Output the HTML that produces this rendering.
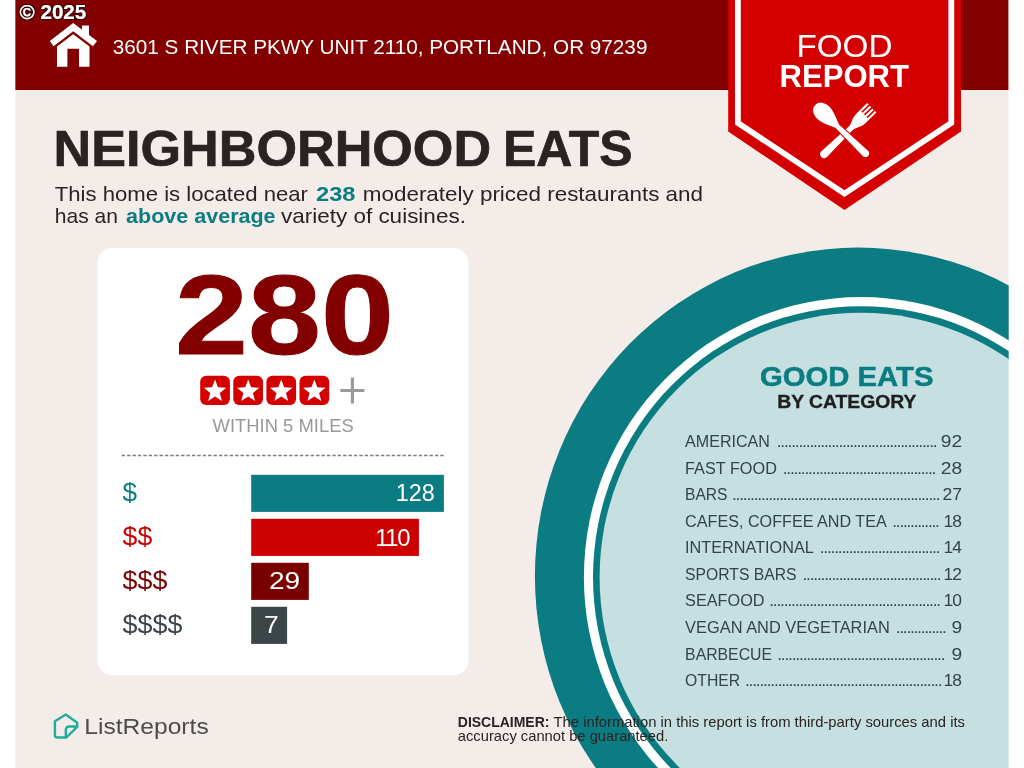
<!DOCTYPE html>
<html lang="en">
<head>
<meta charset="utf-8">
<title>Food Report - Neighborhood Eats</title>
<style>
html,body{margin:0;padding:0;background:#fff;}
body{width:1024px;height:768px;overflow:hidden;font-family:"Liberation Sans",sans-serif;}
svg{display:block;}
text{font-family:"Liberation Sans",sans-serif;}
.b{font-weight:bold;}
</style>
</head>
<body>
<svg width="1024" height="768" viewBox="0 0 1024 768">
<defs>
<filter id="wm" x="-10%" y="-30%" width="120%" height="160%"><feMorphology in="SourceAlpha" operator="dilate" radius="1.3" result="d"/><feGaussianBlur in="d" stdDeviation="0.55" result="b"/><feFlood flood-color="#2a0808" flood-opacity="0.85"/><feComposite in2="b" operator="in" result="sh"/><feMorphology in="SourceGraphic" operator="dilate" radius="0.3" result="fat"/><feMerge><feMergeNode in="sh"/><feMergeNode in="fat"/></feMerge></filter>
</defs>
<rect x="0" y="0" width="1024" height="768" fill="#fff"/>
<g>

<rect x="15.2" y="0" width="993.4" height="768" fill="#f4ece9"/>
<rect x="15.2" y="0" width="993.4" height="90" fill="#830000"/>
<ellipse cx="858.2" cy="576.1" rx="323.3" ry="328.5" fill="#0a7c82"/>
<ellipse cx="860.9" cy="577.2" rx="277.0" ry="280.1" fill="#fff"/>
<ellipse cx="860.9" cy="577.2" rx="267.9" ry="271.0" fill="#0a7c82"/>
<ellipse cx="860.9" cy="577.2" rx="261.3" ry="264.4" fill="#c6e0e1"/>
</g>
<polygon points="728.2,0 961,0 961,131.5 844.5,209.9 728.2,131.5" fill="#d40000"/>
<polyline points="737.9,0 737.9,122.9 844.5,193.6 951.3,122.9 951.3,0" fill="none" stroke="#fff" stroke-width="5.8" stroke-linejoin="miter"/>
<text x="796.4" y="57.4" font-size="30.5" fill="#fff" textLength="96" lengthAdjust="spacingAndGlyphs">FOOD</text>
<text class="b" x="779.6" y="87.2" font-size="31" fill="#fff" textLength="129.4" lengthAdjust="spacingAndGlyphs">REPORT</text>
<g fill="#fff">
<g transform="translate(845.1,133.75) rotate(45.8)">
<path d="M-6.6,-37.2 L-4.5,-37.2 L-4.5,-27 L-2.9,-27 L-2.9,-37.2 L-0.8,-37.2 L-0.8,-27 L0.8,-27 L0.8,-37.2 L2.9,-37.2 L2.9,-27 L4.5,-27 L4.5,-37.2 L6.6,-37.2 L6.6,-23 C6.6,-15.5 3.4,-13.5 2.7,-8.5 L4,29.2 A4,4 0 0 1 -4,29.2 L-2.7,-8.5 C-3.4,-13.5 -6.6,-15.5 -6.6,-23 Z"/>
</g>
<g transform="translate(845.1,133.75) rotate(-46)">
<path stroke="#d40000" stroke-width="1" d="M0,-42 C5.6,-42 9.2,-36.6 9.2,-30.6 C9.2,-23 4.8,-16.5 2.9,-10.5 L4.2,28.2 A4.2,4.2 0 0 1 -4.2,28.2 L-2.9,-10.5 C-4.8,-16.5 -9.2,-23 -9.2,-30.6 C-9.2,-36.6 -5.6,-42 0,-42 Z"/>
</g>
</g>
<g fill="#fff">
<polygon points="73.2,23 97,41 93,46.2 73.2,31.2 53.6,46.2 49.8,41"/>
<polygon points="82,25.4 89,25.4 89,36 82,30.6"/>
<path d="M57,46.5 L73.2,34.2 L89.5,46.5 L89.5,66.8 L79,66.8 L79,48.8 L67.4,48.8 L67.4,66.8 L57,66.8 Z"/>
</g>
<text x="112.8" y="53.7" font-size="20.6" fill="#fff" textLength="534.6" lengthAdjust="spacingAndGlyphs">3601 S RIVER PKWY UNIT 2110, PORTLAND, OR 97239</text>
<text class="b" x="19.5" y="19.0" font-size="20" fill="#fff" filter="url(#wm)" textLength="66.8" lengthAdjust="spacingAndGlyphs">© 2025</text>
<text class="b" y="165.6" font-size="50" fill="#2a2322" stroke="#2a2322" stroke-width="0.7"><tspan x="53.6" textLength="437.5" lengthAdjust="spacingAndGlyphs">NEIGHBORHOOD</tspan><tspan x="503" textLength="129.5" lengthAdjust="spacingAndGlyphs">EATS</tspan></text>
<text x="54.8" y="200.7" font-size="20.8" fill="#2a2322"><tspan textLength="253.2" lengthAdjust="spacingAndGlyphs">This home is located near</tspan><tspan class="b" x="316" fill="#0a7c82" textLength="39.4" lengthAdjust="spacingAndGlyphs">238</tspan><tspan x="362.8" textLength="340.2" lengthAdjust="spacingAndGlyphs">moderately priced restaurants and</tspan></text>
<text x="54.8" y="223.2" font-size="20.8" fill="#2a2322"><tspan textLength="63.2" lengthAdjust="spacingAndGlyphs">has an</tspan><tspan class="b" x="126.1" fill="#0a7c82" textLength="149.5" lengthAdjust="spacingAndGlyphs">above average</tspan><tspan x="280.9" textLength="185" lengthAdjust="spacingAndGlyphs">variety of cuisines.</tspan></text>
<rect x="97.5" y="248" width="371" height="427.4" rx="15" ry="15" fill="#fff"/>
<text class="b" x="174.9" y="354.3" font-size="113" fill="#830000" stroke="#830000" stroke-width="1" textLength="219" lengthAdjust="spacingAndGlyphs">280</text>
<rect x="200.2" y="375.8" width="29.7" height="29.1" rx="6" ry="6" fill="#d40000"/>
<polygon points="215.05,379.60 217.99,387.35 226.27,387.75 219.81,392.95 221.99,400.95 215.05,396.40 208.11,400.95 210.29,392.95 203.83,387.75 212.11,387.35" fill="#fff"/>
<rect x="233.3" y="375.8" width="29.7" height="29.1" rx="6" ry="6" fill="#d40000"/>
<polygon points="248.15,379.60 251.09,387.35 259.37,387.75 252.91,392.95 255.09,400.95 248.15,396.40 241.21,400.95 243.39,392.95 236.93,387.75 245.21,387.35" fill="#fff"/>
<rect x="266.4" y="375.8" width="29.7" height="29.1" rx="6" ry="6" fill="#d40000"/>
<polygon points="281.25,379.60 284.19,387.35 292.47,387.75 286.01,392.95 288.19,400.95 281.25,396.40 274.31,400.95 276.49,392.95 270.03,387.75 278.31,387.35" fill="#fff"/>
<rect x="299.5" y="375.8" width="29.7" height="29.1" rx="6" ry="6" fill="#d40000"/>
<polygon points="314.35,379.60 317.29,387.35 325.57,387.75 319.11,392.95 321.29,400.95 314.35,396.40 307.41,400.95 309.59,392.95 303.13,387.75 311.41,387.35" fill="#fff"/>
<path d="M340.3,390.5 H364.4 M352.4,377.6 V403.4" stroke="#999" stroke-width="3.1" fill="none"/>
<text x="212.6" y="431.8" font-size="17.6" fill="#999" textLength="141.1" lengthAdjust="spacingAndGlyphs">WITHIN 5 MILES</text>
<line x1="121.7" y1="455.5" x2="444.3" y2="455.4" stroke="#7d7d7d" stroke-width="1.5" stroke-dasharray="3.4,2"/>
<rect x="251.2" y="474.8" width="192.7" height="37.1" fill="#0a7c82"/>
<text x="122.6" y="501.3" font-size="25.4" fill="#0a7c82" textLength="14.5" lengthAdjust="spacingAndGlyphs">$</text>
<text x="395.7" y="501.1" font-size="23.8" fill="#fff" textLength="39.1" lengthAdjust="spacingAndGlyphs">128</text>
<rect x="251.2" y="518.8" width="167.7" height="37.1" fill="#cc0000"/>
<text x="122.6" y="545.3" font-size="25.4" fill="#cc0000" textLength="29.6" lengthAdjust="spacingAndGlyphs">$$</text>
<text x="375.2" y="545.5" font-size="23.8" fill="#fff" textLength="35.2" lengthAdjust="spacing">110</text>
<rect x="251.2" y="562.8" width="57.6" height="37.1" fill="#7a0000"/>
<text x="122.6" y="589.3" font-size="25.4" fill="#7a0000" textLength="44.7" lengthAdjust="spacingAndGlyphs">$$$</text>
<text x="269.0" y="589.2" font-size="23.8" fill="#fff" textLength="31.2" lengthAdjust="spacingAndGlyphs">29</text>
<rect x="251.2" y="606.8" width="35.9" height="37.1" fill="#3b4446"/>
<text x="122.6" y="633.3" font-size="25.4" fill="#3b4446" textLength="59.8" lengthAdjust="spacingAndGlyphs">$$$$</text>
<text x="264.1" y="633.0" font-size="23.8" fill="#fff" textLength="14.7" lengthAdjust="spacingAndGlyphs">7</text>
<text class="b" x="760" y="386.2" font-size="27.5" fill="#0a7c82" stroke="#0a7c82" stroke-width="0.5" textLength="173.5" lengthAdjust="spacingAndGlyphs">GOOD EATS</text>
<text class="b" x="777.2" y="408.3" font-size="18.4" fill="#1f1f1f" stroke="#1f1f1f" stroke-width="0.35" textLength="139.2" lengthAdjust="spacingAndGlyphs">BY CATEGORY</text>
<text x="685.1" y="447.3" font-size="17.4" fill="#33434a" textLength="84.8" lengthAdjust="spacingAndGlyphs">AMERICAN</text>
<text x="776.7" y="447.3" font-size="17.4" fill="#33434a" textLength="161.0" lengthAdjust="spacing">............................................</text>
<text x="940.8" y="447.3" font-size="17.4" fill="#33434a" textLength="21.3" lengthAdjust="spacingAndGlyphs">92</text>
<text x="685.1" y="473.8" font-size="17.4" fill="#33434a" textLength="91.8" lengthAdjust="spacingAndGlyphs">FAST FOOD</text>
<text x="782.7" y="473.8" font-size="17.4" fill="#33434a" textLength="153.7" lengthAdjust="spacing">..........................................</text>
<text x="940.8" y="473.8" font-size="17.4" fill="#33434a" textLength="21.3" lengthAdjust="spacingAndGlyphs">28</text>
<text x="685.1" y="500.3" font-size="17.4" fill="#33434a" textLength="42.4" lengthAdjust="spacingAndGlyphs">BARS</text>
<text x="731.9" y="500.3" font-size="17.4" fill="#33434a" textLength="208.6" lengthAdjust="spacing">.........................................................</text>
<text x="942.6" y="500.3" font-size="17.4" fill="#33434a" textLength="19.5" lengthAdjust="spacingAndGlyphs">27</text>
<text x="685.1" y="526.9" font-size="17.4" fill="#33434a" textLength="201.7" lengthAdjust="spacingAndGlyphs">CAFES, COFFEE AND TEA</text>
<text x="892.3" y="526.9" font-size="17.4" fill="#33434a" textLength="47.6" lengthAdjust="spacing">.............</text>
<text x="943.6" y="526.9" font-size="17.4" fill="#33434a" textLength="18.4" lengthAdjust="spacing">18</text>
<text x="685.1" y="553.4" font-size="17.4" fill="#33434a" textLength="128.7" lengthAdjust="spacingAndGlyphs">INTERNATIONAL</text>
<text x="819.7" y="553.4" font-size="17.4" fill="#33434a" textLength="120.8" lengthAdjust="spacing">.................................</text>
<text x="943.6" y="553.4" font-size="17.4" fill="#33434a" textLength="18.4" lengthAdjust="spacing">14</text>
<text x="685.1" y="579.9" font-size="17.4" fill="#33434a" textLength="111.5" lengthAdjust="spacingAndGlyphs">SPORTS BARS</text>
<text x="802.4" y="579.9" font-size="17.4" fill="#33434a" textLength="139.1" lengthAdjust="spacing">......................................</text>
<text x="943.6" y="579.9" font-size="17.4" fill="#33434a" textLength="18.4" lengthAdjust="spacing">12</text>
<text x="685.1" y="606.4" font-size="17.4" fill="#33434a" textLength="79.4" lengthAdjust="spacingAndGlyphs">SEAFOOD</text>
<text x="769.2" y="606.4" font-size="17.4" fill="#33434a" textLength="172.0" lengthAdjust="spacing">...............................................</text>
<text x="943.6" y="606.4" font-size="17.4" fill="#33434a" textLength="18.4" lengthAdjust="spacing">10</text>
<text x="685.1" y="632.9" font-size="17.4" fill="#33434a" textLength="204.7" lengthAdjust="spacingAndGlyphs">VEGAN AND VEGETARIAN</text>
<text x="895.7" y="632.9" font-size="17.4" fill="#33434a" textLength="51.2" lengthAdjust="spacing">..............</text>
<text x="951.4" y="632.9" font-size="17.4" fill="#33434a" textLength="10.7" lengthAdjust="spacingAndGlyphs">9</text>
<text x="685.1" y="659.5" font-size="17.4" fill="#33434a" textLength="86.9" lengthAdjust="spacingAndGlyphs">BARBECUE</text>
<text x="777.2" y="659.5" font-size="17.4" fill="#33434a" textLength="168.4" lengthAdjust="spacing">..............................................</text>
<text x="951.4" y="659.5" font-size="17.4" fill="#33434a" textLength="10.7" lengthAdjust="spacingAndGlyphs">9</text>
<text x="685.1" y="686.0" font-size="17.4" fill="#33434a" textLength="55.1" lengthAdjust="spacingAndGlyphs">OTHER</text>
<text x="744.9" y="686.0" font-size="17.4" fill="#33434a" textLength="197.6" lengthAdjust="spacing">......................................................</text>
<text x="943.6" y="686.0" font-size="17.4" fill="#33434a" textLength="18.4" lengthAdjust="spacing">18</text>
<text x="457.8" y="726.5" font-size="15" fill="#2a2322"><tspan class="b" textLength="91.6" lengthAdjust="spacingAndGlyphs">DISCLAIMER:</tspan><tspan x="553.5" textLength="411.5" lengthAdjust="spacingAndGlyphs">The information in this report is from third-party sources and its</tspan></text>
<text x="457.8" y="741" font-size="15" fill="#2a2322" textLength="210.5" lengthAdjust="spacingAndGlyphs">accuracy cannot be guaranteed.</text>
<g fill="none" stroke="#1fad9f" stroke-width="2.4" stroke-linejoin="round" stroke-linecap="round">
<path d="M54.9,721.3 L65.8,714.5 L77.2,722.7 L77.2,726.8 L66.4,737.5 L57.6,737.5 Q54.9,737.5 54.9,734.9 Z"/>
<path d="M76.8,726.5 L69.4,726.5 Q65.8,726.5 65.8,730.1 L65.8,737"/>
</g>
<text x="84.3" y="734.2" font-size="22.6" fill="#4d4d4d" textLength="124.4" lengthAdjust="spacingAndGlyphs">ListReports</text>
<rect x="0" y="0" width="15.2" height="768" fill="#fff"/><rect x="1008.7" y="0" width="15.3" height="768" fill="#fff"/>
</svg>
</body>
</html>
